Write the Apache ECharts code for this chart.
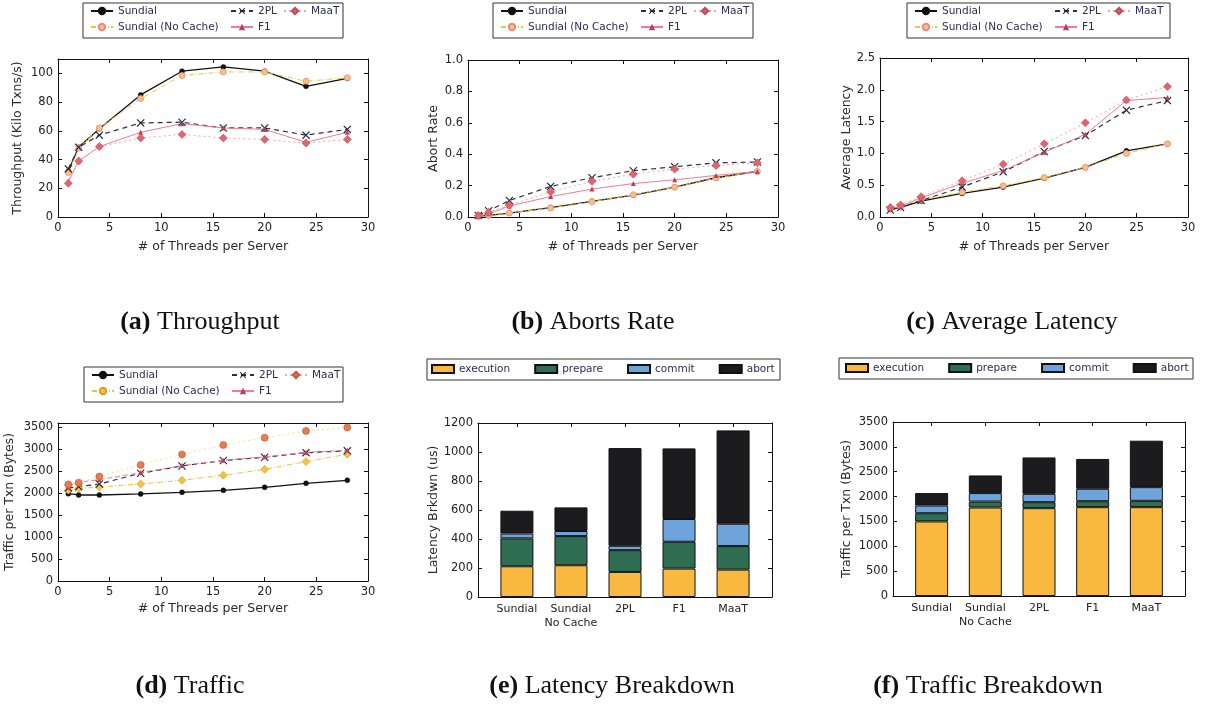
<!DOCTYPE html>
<html>
<head>
<meta charset="utf-8">
<script src="https://cdn.jsdelivr.net/npm/echarts@6/dist/echarts.min.js"></script>
<style>
html,body{margin:0;padding:0;background:#fff;}
#chart{width:1205px;height:704px;}
</style>
</head>
<body>
<div id="chart"></div>
<script>
// ---------------- DATA ----------------
const threads = [1, 2, 4, 8, 12, 16, 20, 24, 28];
const seriesNames = ['Sundial', 'Sundial (No Cache)', '2PL', 'F1', 'MaaT'];

// (a) Throughput (Kilo Txns/s)
const tputSundial = [32, 48.5, 61.5, 85, 101.5, 104.5, 101.5, 91, 96.5];
const tputNoCache = [31, 48, 62, 82.5, 98.5, 101, 101, 94.5, 97];
const tput2PL     = [33.5, 48.5, 57, 65.5, 66, 62, 62, 57, 61];
const tputF1      = [25, 39, 49, 59, 65, 62, 61, 52, 59];
const tputMaaT    = [23.5, 39, 49, 55, 57.5, 55, 54, 51.5, 54];

// (b) Abort rate
const abortSundial = [0.005, 0.01, 0.025, 0.06, 0.1, 0.14, 0.19, 0.25, 0.29];
const abortNoCache = [0.005, 0.01, 0.025, 0.057, 0.097, 0.142, 0.19, 0.248, 0.29];
const abort2PL     = [0.01, 0.04, 0.105, 0.195, 0.25, 0.295, 0.32, 0.345, 0.35];
const abortF1      = [0.005, 0.02, 0.07, 0.13, 0.178, 0.213, 0.237, 0.265, 0.29];
const abortMaaT    = [0.01, 0.03, 0.075, 0.16, 0.227, 0.273, 0.305, 0.328, 0.345];

// (c) Average latency
const latSundial = [0.12, 0.15, 0.25, 0.37, 0.47, 0.61, 0.78, 1.04, 1.15];
const latNoCache = [0.13, 0.16, 0.27, 0.39, 0.49, 0.62, 0.78, 1.0, 1.15];
const lat2PL     = [0.11, 0.15, 0.26, 0.47, 0.71, 1.03, 1.28, 1.68, 1.83];
const latF1      = [0.13, 0.17, 0.3, 0.53, 0.73, 1.02, 1.3, 1.83, 1.88];
const latMaaT    = [0.15, 0.19, 0.32, 0.57, 0.83, 1.15, 1.48, 1.84, 2.05];

// (d) Traffic per Txn (Bytes)
const trafSundial = [1990, 1960, 1960, 1985, 2020, 2065, 2135, 2225, 2295];
const trafNoCache = [2070, 2110, 2140, 2210, 2295, 2410, 2545, 2720, 2890];
const traf2PL     = [2120, 2150, 2210, 2455, 2620, 2745, 2820, 2925, 2965];
const trafF1      = [2150, 2250, 2310, 2470, 2630, 2750, 2830, 2930, 2980];
const trafMaaT    = [2200, 2240, 2380, 2645, 2885, 3100, 3265, 3420, 3500];

// (e) / (f) breakdowns
const barCategories = ['Sundial', 'Sundial\nNo Cache', '2PL', 'F1', 'MaaT'];
const breakdownParts = ['execution', 'prepare', 'commit', 'abort'];
const latExec    = [212, 219, 173, 196, 189];
const latPrepare = [192, 201, 150, 185, 162];
const latCommit  = [34, 35, 30, 157, 154];
const latAbort   = [157, 163, 674, 487, 644];
const trafExec    = [1500, 1780, 1767, 1787, 1787];
const trafPrepare = [165, 120, 120, 120, 128];
const trafCommit  = [155, 170, 168, 250, 275];
const trafAbort   = [250, 355, 732, 600, 934];

const captions = [
  ['(a)', 'Throughput'], ['(b)', 'Aborts Rate'], ['(c)', 'Average Latency'],
  ['(d)', 'Traffic'], ['(e)', 'Latency Breakdown'], ['(f)', 'Traffic Breakdown']
];

// ---------------- LAYOUT / STYLE ----------------
const FONT = 'DejaVu Sans';
const grids = [
  {left: 58,  top: 59,  width: 310, height: 158},
  {left: 468, top: 60,  width: 310, height: 157},
  {left: 880, top: 58,  width: 308, height: 159},
  {left: 58,  top: 423, width: 310, height: 158},
  {left: 478, top: 423, width: 294, height: 174},
  {left: 893, top: 422, width: 292, height: 174}
];
const yCfg = [
  {min: 0, max: 110, interval: 20, name: 'Throughput (Kilo Txns/s)', gap: 34},
  {min: 0, max: 1.0, interval: 0.2, name: 'Abort Rate', gap: 28, dec: 1},
  {min: 0, max: 2.5, interval: 0.5, name: 'Average Latency', gap: 27, dec: 1},
  {min: 0, max: 3600, interval: 500, name: 'Traffic per Txn (Bytes)', gap: 42},
  {min: 0, max: 1200, interval: 200, name: 'Latency Brkdwn (us)', gap: 37},
  {min: 0, max: 3500, interval: 500, name: 'Traffic per Txn (Bytes)', gap: 40}
];
const lineColors = {
  sundial: '#111111', nc: '#f0c040', twopl: '#2f2f45', f1: '#f07c92', maat: '#f3a99b'
};
const barColors = ['#f9b840', '#2f6e52', '#6fa3db', '#1c1c1e'];
const xSym = 'path://M1,0L5,4L9,0L10,1L6,5L10,9L9,10L5,6L1,10L0,9L4,5L0,1Z';

function isOffGrid(v, yc) {
  const r = v / yc.interval;
  return Math.abs(r - Math.round(r)) > 1e-6;
}

const xAxes = [], yAxes = [];
const lineAx = {show: true, onZero: false, lineStyle: {color: '#111', width: 1}};
grids.forEach((g, i) => {
  const isBar = i >= 4;
  const yc = yCfg[i];
  const baseX = isBar ? {type: 'value', min: -0.72, max: 4.72}
                      : {type: 'value', min: 0, max: 30, interval: 5};
  const tick = isBar ? {show: true, inside: true, length: 4, lineStyle: {color: '#111'}, customValues: [0, 1, 2, 3, 4]}
                     : {show: true, inside: true, length: 4, lineStyle: {color: '#111'}};
  xAxes.push(Object.assign({}, baseX, {
    gridIndex: i, position: 'bottom',
    name: isBar ? '' : '# of Threads per Server',
    nameLocation: 'middle', nameGap: i === 3 ? 21 : 23,
    nameTextStyle: {fontFamily: FONT, fontSize: 12.5, color: '#2a2a2a'},
    axisLine: lineAx, axisTick: tick,
    axisLabel: isBar ? {
      customValues: [0, 1, 2, 3, 4], fontFamily: FONT, fontSize: 11, color: '#222', margin: 5, lineHeight: 14,
      formatter: v => barCategories[Math.round(v)]
    } : {fontFamily: FONT, fontSize: 11.5, color: '#222', margin: 5},
    splitLine: {show: false}
  }));
  xAxes.push(Object.assign({}, baseX, {
    gridIndex: i, position: 'top',
    axisLine: lineAx, axisTick: tick,
    axisLabel: {show: false}, splitLine: {show: false}
  }));
  const baseY = {type: 'value', min: yc.min, max: yc.max, interval: yc.interval};
  yAxes.push(Object.assign({}, baseY, {
    gridIndex: i, position: 'left',
    name: yc.name, nameLocation: 'middle', nameGap: yc.gap, nameRotate: 90,
    nameTextStyle: {fontFamily: FONT, fontSize: 12.5, color: '#2a2a2a'},
    axisLine: lineAx,
    axisTick: {show: true, inside: true, length: 4, lineStyle: {color: '#111'}},
    axisLabel: {fontFamily: FONT, fontSize: 11.5, color: '#222', margin: 5, showMaxLabel: true, showMinLabel: true,
      formatter: v => isOffGrid(v, yc) ? '' : (yc.dec ? v.toFixed(1) : String(v))},
    splitLine: {show: false}
  }));
  yAxes.push(Object.assign({}, baseY, {
    gridIndex: i, position: 'right',
    axisLine: lineAx,
    axisTick: {show: true, inside: true, length: 4, lineStyle: {color: '#111'}},
    axisLabel: {show: false}, splitLine: {show: false}
  }));
});

function pts(vals) { return threads.map((t, k) => [t, vals[k]]); }

function lineSet(p, vals, trafficStyle) {
  const ax = {xAxisIndex: 2 * p, yAxisIndex: 2 * p};
  const common = {type: 'line', animation: false, z: 3};
  return [
    Object.assign({}, common, ax, {
      name: seriesNames[0], data: pts(vals[0]), symbol: 'circle', symbolSize: 5,
      lineStyle: {color: lineColors.sundial, width: 1.3, type: 'solid'},
      itemStyle: {color: '#111', borderColor: '#111', borderWidth: 0.5}
    }),
    Object.assign({}, common, ax, {
      name: seriesNames[1], data: pts(vals[1]),
      symbol: trafficStyle ? 'diamond' : 'circle', symbolSize: trafficStyle ? 8 : 6,
      lineStyle: {color: lineColors.nc, width: 1, type: [5, 2, 1, 2]},
      itemStyle: trafficStyle ? {color: '#f6c23e', borderColor: '#d89a30', borderWidth: 0.6}
                              : {color: '#f8c27a', borderColor: '#e38a8e', borderWidth: 0.8}
    }),
    Object.assign({}, common, ax, {
      name: seriesNames[2], data: pts(vals[2]), symbol: xSym, symbolSize: 8,
      lineStyle: {color: lineColors.twopl, width: 1.2, type: [5, 4]},
      itemStyle: {color: '#26263a', borderWidth: 0}
    }),
    Object.assign({}, common, ax, {
      name: seriesNames[3], data: pts(vals[3]), symbol: 'triangle', symbolSize: 5,
      lineStyle: {color: lineColors.f1, width: 1, type: trafficStyle ? [5, 3] : 'solid'},
      itemStyle: {color: '#b8405a', borderWidth: 0}
    }),
    Object.assign({}, common, ax, {
      name: seriesNames[4], data: pts(vals[4]),
      symbol: trafficStyle ? 'circle' : 'diamond', symbolSize: trafficStyle ? 7 : 8,
      lineStyle: {color: trafficStyle ? '#f7e08a' : lineColors.maat, width: 1, type: [2, 3]},
      itemStyle: trafficStyle ? {color: '#ea7a50', borderColor: '#b85a3a', borderWidth: 0.6}
                              : {color: '#e2656e', borderColor: '#c04a55', borderWidth: 0.6}
    })
  ];
}

function barSet(p, parts, stackId) {
  // data stored as [value, categoryIndex] so that the stacked dimension is the value
  return parts.map((vals, k) => ({
    type: 'bar', name: breakdownParts[k], stack: stackId, animation: false,
    xAxisIndex: 2 * p, yAxisIndex: 2 * p, barWidth: 33,
    encode: {x: 1, y: 0},
    data: vals.map((v, j) => [v, j]),
    itemStyle: {color: barColors[k], borderColor: '#111', borderWidth: 1}
  }));
}

const series = [].concat(
  lineSet(0, [tputSundial, tputNoCache, tput2PL, tputF1, tputMaaT], false),
  lineSet(1, [abortSundial, abortNoCache, abort2PL, abortF1, abortMaaT], false),
  lineSet(2, [latSundial, latNoCache, lat2PL, latF1, latMaaT], false),
  lineSet(3, [trafSundial, trafNoCache, traf2PL, trafF1, trafMaaT], true),
  barSet(4, [latExec, latPrepare, latCommit, latAbort], 'lat'),
  barSet(5, [trafExec, trafPrepare, trafCommit, trafAbort], 'traf')
);

// ---------------- LEGENDS ----------------
const legendText = {fontFamily: FONT, fontSize: 10.5, color: '#2b2d55', lineHeight: 12};
const legends = [];
const lineLegendPos = [
  {x: 90, y: 5}, {x: 500, y: 5}, {x: 914, y: 5}, {x: 91, y: 369}
];
lineLegendPos.forEach((pos, i) => {
  const dItems = (names) => names.map(n => {
    if (i === 3 && n === 'Sundial (No Cache)') return {name: n, itemStyle: {color: '#f6c23e', borderColor: '#d89a30'}};
    if (i === 3 && n === 'MaaT') return {name: n, itemStyle: {color: '#ea7a50', borderColor: '#b85a3a'}};
    return {name: n};
  });
  const cols = [[seriesNames[0], seriesNames[1]], [seriesNames[2], seriesNames[3]], [seriesNames[4]]];
  const offs = [0, 140, 193];
  cols.forEach((c, ci) => {
    legends.push({
      orient: 'vertical', left: pos.x + offs[ci], top: pos.y, padding: 0,
      itemWidth: 22, itemHeight: 8, itemGap: 4, textStyle: legendText,
      data: dItems(c), selectedMode: false
    });
  });
});
[{x: 431, y: 363}, {x: 845, y: 362}].forEach(pos => {
  legends.push({
    orient: 'horizontal', left: pos.x, top: pos.y, padding: 0,
    itemWidth: 22, itemHeight: 8, itemGap: 24, textStyle: legendText,
    icon: 'rect', data: breakdownParts, selectedMode: false
  });
});

// ---------------- GRAPHICS (legend frames, captions) ----------------
const frames = [
  [83, 3, 260, 35], [493, 3, 260, 35], [907, 3, 263, 35],
  [84, 367, 259, 35], [427, 359, 353, 21], [839, 358, 354, 21]
];
const captionPos = [[200, 322], [593, 322], [1012, 322], [190, 686], [612, 686], [988, 686]];
const graphic = [];
frames.forEach(f => graphic.push({
  type: 'rect', shape: {x: f[0], y: f[1], width: f[2], height: f[3]},
  style: {fill: 'none', stroke: '#333', lineWidth: 1}, silent: true
}));
captions.forEach((c, i) => graphic.push({
  type: 'text', x: captionPos[i][0], y: captionPos[i][1], silent: true,
  style: {
    text: '{b|' + c[0] + '} ' + c[1],
    fontFamily: 'Liberation Serif', fontSize: 26, fill: '#111',
    align: 'center', verticalAlign: 'middle',
    rich: {b: {fontFamily: 'Liberation Serif', fontSize: 26, fontWeight: 'bold', fill: '#111'}}
  }
}));

const chart = echarts.init(document.getElementById('chart'), null, {renderer: 'canvas'});
chart.setOption({
  backgroundColor: '#ffffff',
  animation: false,
  grid: grids.map(g => Object.assign({containLabel: false}, g)),
  xAxis: xAxes,
  yAxis: yAxes,
  legend: legends,
  series: series,
  graphic: graphic
});
</script>
</body>
</html>
